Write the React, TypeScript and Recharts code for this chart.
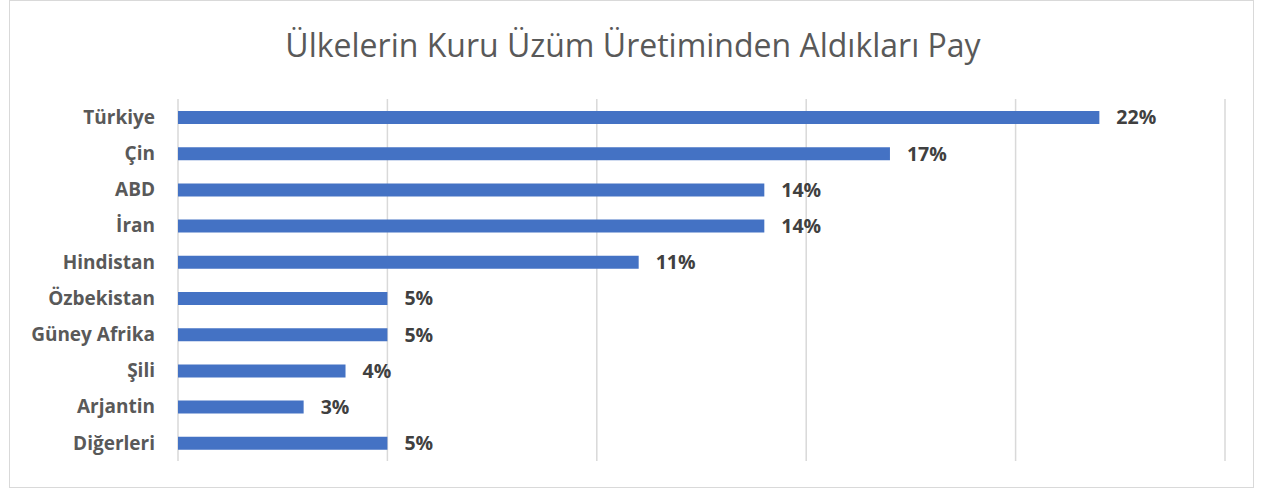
import React from "react";
import { BarChart, Bar, XAxis, YAxis, CartesianGrid, LabelList } from "recharts";

const categories = ["Türkiye", "Çin", "ABD", "İran", "Hindistan", "Özbekistan", "Güney Afrika", "Şili", "Arjantin", "Diğerleri"];
const shares = [22, 17, 14, 14, 11, 5, 5, 4, 3, 5];
const xTicks = [0, 5, 10, 15, 20, 25];
const title = "Ülkelerin Kuru Üzüm Üretiminden Aldıkları Pay";

const data = categories.map((name, i) => ({ name, value: shares[i] }));

const FONT = "'Open Sans', 'Noto Sans', sans-serif";

export default function App() {
  return (
    <div style={{ position: "absolute", left: 0, top: 0, width: 1266, height: 490, background: "#fff" }}>
      <div
        style={{
          position: "absolute",
          left: 9,
          top: 0,
          width: 1245,
          height: 488,
          border: "1px solid #d9d9d9",
          boxSizing: "border-box",
        }}
      />
      <div
        style={{
          position: "absolute",
          left: 0,
          top: 23,
          width: 1266,
          textAlign: "center",
          fontFamily: FONT,
          fontSize: 32,
          color: "#595959",
          lineHeight: "44px",
        }}
      >
        {title}
      </div>
      <div style={{ position: "absolute", left: 0, top: 0 }}>
        <BarChart
          width={1266}
          height={490}
          data={data}
          layout="vertical"
          margin={{ top: 99, right: 41, bottom: 29, left: 0 }}
        >
          <CartesianGrid horizontal={false} vertical={true} stroke="#d9d9d9" strokeWidth={1.5} />
          <XAxis type="number" domain={[0, 25]} ticks={xTicks} hide />
          <YAxis
            type="category"
            dataKey="name"
            width={178}
            axisLine={false}
            tickLine={false}
            tickMargin={17}
            tick={{ fontFamily: FONT, fontWeight: 700, fontSize: 19, fill: "#595959" }}
          />
          <Bar dataKey="value" fill="#4472C4" barSize={13} isAnimationActive={false}>
            <LabelList
              dataKey="value"
              position="right"
              offset={17}
              formatter={(v: any) => `${v}%`}
              style={{ fontFamily: FONT, fontWeight: 700, fontSize: 19.5, fill: "#404040" }}
            />
          </Bar>
        </BarChart>
      </div>
    </div>
  );
}
